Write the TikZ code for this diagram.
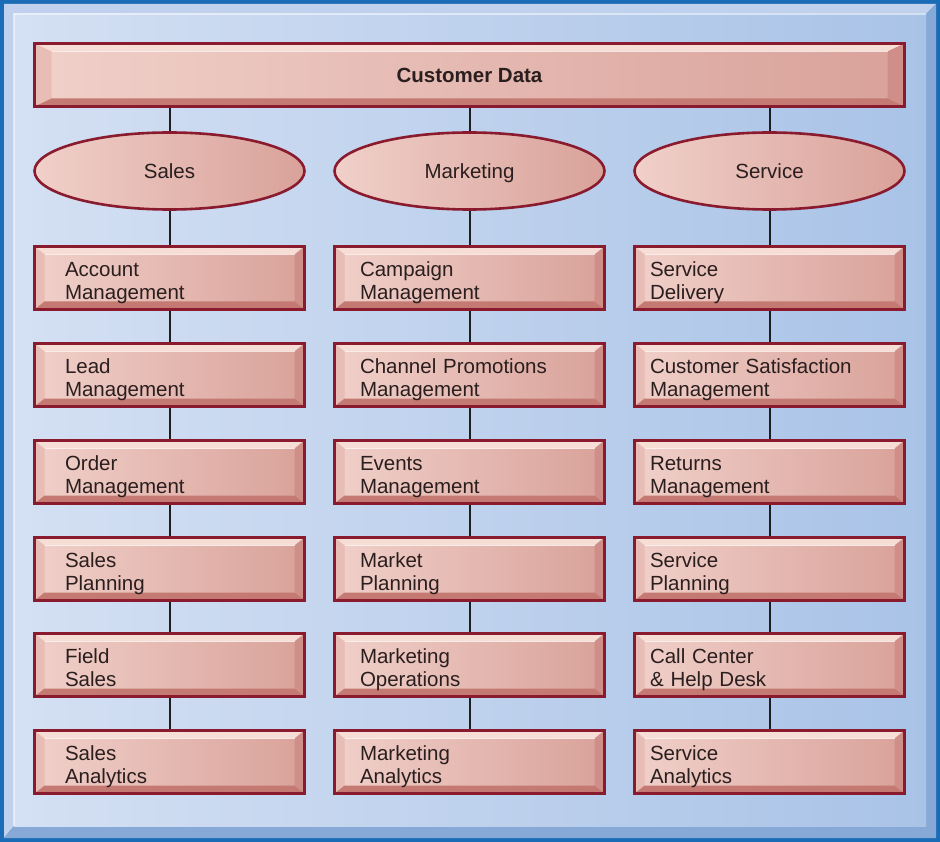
\documentclass[tikz,border=0pt]{standalone}
\usepackage{fontspec}
\setmainfont{Liberation Sans}
\usetikzlibrary{shapes.geometric}
\definecolor{frameblue}{HTML}{1B6CB6}
\definecolor{framelight}{HTML}{BFD1EC}
\definecolor{framedark}{HTML}{86A9D8}
\definecolor{bgL}{HTML}{D4E0F3}
\definecolor{bgR}{HTML}{A9C3E7}
\definecolor{pkL}{HTML}{F0D0C9}
\definecolor{pkR}{HTML}{D9A29A}
\definecolor{rim}{HTML}{8A1B2E}
\definecolor{bvtop}{HTML}{F6DDD6}
\definecolor{bvleft}{HTML}{E8BDB5}
\definecolor{bvbot}{HTML}{C47A72}
\definecolor{bvright}{HTML}{CF8F88}
\definecolor{ink}{HTML}{2A1E1E}
\definecolor{conncol}{HTML}{1E1E22}
\newcommand\mybevel[2]{%
    \coordinate (pnw) at (path picture bounding box.north west);
    \coordinate (pne) at (path picture bounding box.north east);
    \coordinate (psw) at (path picture bounding box.south west);
    \coordinate (pse) at (path picture bounding box.south east);
    \fill[bvtop] (pnw) -- (pne) -- ([xshift=-#1,yshift=-#2]pne) -- ([xshift=#1,yshift=-#2]pnw) -- cycle;
    \fill[bvleft] (pnw) -- ([xshift=#1,yshift=-#2]pnw) -- ([xshift=#1,yshift=#2]psw) -- (psw) -- cycle;
    \fill[bvright] (pne) -- ([xshift=-#1,yshift=-#2]pne) -- ([xshift=-#1,yshift=#2]pse) -- (pse) -- cycle;
    \fill[bvbot] (psw) -- ([xshift=#1,yshift=#2]psw) -- ([xshift=-#1,yshift=#2]pse) -- (pse) -- cycle;
    \draw[white, opacity=0.6, line width=1.2pt] ([xshift=#1,yshift=-#2]pnw) -- ([xshift=-#1,yshift=-#2]pne);
}
\tikzset{
  basebox/.style={rectangle, draw=rim, line width=2.6pt, left color=pkL, right color=pkR,
    text=ink, font=\fontsize{20.5}{23}\selectfont},
  fnbox/.style={basebox, minimum width=270pt, minimum height=63pt, align=left,
    text height=15pt, text depth=18pt,
    path picture={\mybevel{10pt}{8pt}}},
  colA/.style={fnbox, text width=209pt, inner xsep=30pt},
  colB/.style={fnbox, text width=219pt, inner xsep=25pt},
  colC/.style={fnbox, text width=239pt, inner xsep=15pt},
  topbox/.style={basebox, minimum width=870pt, minimum height=63pt,
    text height=14.5pt, text depth=0pt,
    path picture={\mybevel{17pt}{8pt}},
    font=\fontsize{20.5}{23}\selectfont\bfseries},
  oval/.style={ellipse, draw=rim, line width=2.6pt, left color=pkL, right color=pkR,
    minimum width=270pt, minimum height=77pt, inner sep=0pt, text=ink,
    text height=15pt, text depth=0pt,
    font=\fontsize{20.5}{23}\selectfont},
  conn/.style={draw=conncol, line width=2pt}
}
\begin{document}
\begin{tikzpicture}[x=1pt,y=-1pt]
\useasboundingbox (0,0) rectangle (940,842);
\fill[frameblue] (0,0) rectangle (940,842);
\fill[framelight] (4,4) -- (936,4) -- (926,14) -- (14,14) -- (14,826) -- (4,838) -- cycle;
\fill[framedark] (936,4) -- (936,838) -- (4,838) -- (14,826) -- (926,826) -- (926,14) -- cycle;
\shade[left color=bgL, right color=bgR] (14,14) rectangle (926,826);
\draw[white, opacity=0.5, line width=1.5pt] (14,826) -- (14,14) -- (926,14);

\node[topbox] (cd) at (469.5,75) {Customer Data};

\node[oval] (sales) at (169.5,171) {Sales};
\node[oval] (mkt) at (469.5,171) {Marketing};
\node[oval] (svc) at (769.5,171) {Service};

\node[colA] (a1) at (169.5,278) {Account\\Management};
\node[colA] (a2) at (169.5,375) {Lead\\Management};
\node[colA] (a3) at (169.5,472) {Order\\Management};
\node[colA] (a4) at (169.5,569) {Sales\\Planning};
\node[colA] (a5) at (169.5,665) {Field\\Sales};
\node[colA] (a6) at (169.5,762) {Sales\\Analytics};

\node[colB] (b1) at (469.5,278) {Campaign\\Management};
\node[colB] (b2) at (469.5,375) {Channel Promotions\\Management};
\node[colB] (b3) at (469.5,472) {Events\\Management};
\node[colB] (b4) at (469.5,569) {Market\\Planning};
\node[colB] (b5) at (469.5,665) {Marketing\\Operations};
\node[colB] (b6) at (469.5,762) {Marketing\\Analytics};

\node[colC] (c1) at (769.5,278) {Service\\Delivery};
\node[colC] (c2) at (769.5,375) {Customer Satisfaction\\Management};
\node[colC] (c3) at (769.5,472) {Returns\\Management};
\node[colC] (c4) at (769.5,569) {Service\\Planning};
\node[colC] (c5) at (769.5,665) {Call Center\\\& Help Desk};
\node[colC] (c6) at (769.5,762) {Service\\Analytics};

\draw[conn] (sales.north |- cd.south) -- (sales.north);
\draw[conn] (mkt.north |- cd.south) -- (mkt.north);
\draw[conn] (svc.north |- cd.south) -- (svc.north);
\draw[conn] (sales) -- (a1) -- (a2) -- (a3) -- (a4) -- (a5) -- (a6);
\draw[conn] (mkt) -- (b1) -- (b2) -- (b3) -- (b4) -- (b5) -- (b6);
\draw[conn] (svc) -- (c1) -- (c2) -- (c3) -- (c4) -- (c5) -- (c6);
\end{tikzpicture}
\end{document}
